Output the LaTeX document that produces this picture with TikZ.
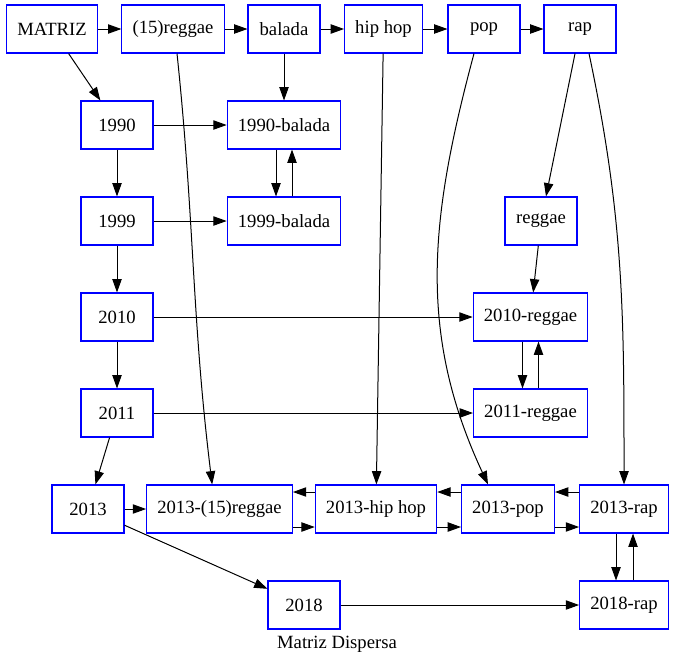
\documentclass[tikz,border=0pt]{standalone}
\usepackage{fontspec}
\setmainfont{Liberation Serif}
\usetikzlibrary{arrows.meta}

\begin{document}
\begin{tikzpicture}[
x=0.75pt, y=-0.75pt,
box/.style={draw=blue, line width=0.8pt, minimum width=54pt, minimum height=36pt, inner xsep=8pt, align=center, font=\fontsize{14}{16}\selectfont},
arrow/.style={-{Triangle[length=10pt, width=7pt]}, line width=0.75pt, black}
]
\useasboundingbox (0,0) rectangle (673,665);
% first row
\node[box] (matriz) at (52,29) {MATRIZ};
\node[box] (reggae15) at (173,29) {(15)reggae};
\node[box] (balada) at (284,29) {balada};
\node[box] (hiphop) at (383.5,29) {hip hop};
\node[box] (pop) at (484,29) {pop};
\node[box] (rap) at (580,29) {rap};
% years and cells
\node[box] (a1990) at (117,125) {1990};
\node[box] (balada1990) at (284,125) {1990-balada};
\node[box] (a1999) at (117,221) {1999};
\node[box] (balada1999) at (284,221) {1999-balada};
\node[box] (reggae) at (541,221) {reggae};
\node[box] (a2010) at (117,317) {2010};
\node[box] (reggae2010) at (530.5,317) {2010-reggae};
\node[box] (a2011) at (117,413) {2011};
\node[box] (reggae2011) at (530.5,413) {2011-reggae};
\node[box] (a2013) at (88,509) {2013};
\node[box] (reggae15a2013) at (219.5,509) {2013-(15)reggae};
\node[box] (hiphop2013) at (376,509) {2013-hip hop};
\node[box] (pop2013) at (508,509) {2013-pop};
\node[box] (rap2013) at (624,509) {2013-rap};
\node[box] (a2018) at (304,605) {2018};
\node[box] (rap2018) at (624,605) {2018-rap};
\node[font=\fontsize{14}{16}\selectfont] (titulo) at (337,644) {Matriz Dispersa};
% header links
\draw[arrow] (matriz) -- (reggae15);
\draw[arrow] (reggae15) -- (balada);
\draw[arrow] (balada) -- (hiphop);
\draw[arrow] (hiphop) -- (pop);
\draw[arrow] (pop) -- (rap);
\draw[arrow] (matriz) -- (a1990);
\draw[arrow] (balada) -- (balada1990);
\draw[arrow] ([xshift=3pt]reggae15.south) to[out=-84, in=97] ([xshift=-5.5pt]reggae15a2013.north);
\draw[arrow] (hiphop) -- (hiphop2013);
\draw[arrow] ([xshift=-7.5pt]pop.south) to[out=-105, in=115] ([xshift=-15pt]pop2013.north);
\draw[arrow] (rap) -- (reggae);
\draw[arrow] ([xshift=6.75pt]rap.south) to[out=-78, in=90] (rap2013.north);
% years
\draw[arrow] (a1990) -- (a1999);
\draw[arrow] (a1999) -- (a2010);
\draw[arrow] (a2010) -- (a2011);
\draw[arrow] (a2011) -- (a2013);
\draw[arrow] (a2013) -- (a2018);
% rows
\draw[arrow] (a1990) -- (balada1990);
\draw[arrow] (a1999) -- (balada1999);
\draw[arrow] (a2010) -- (reggae2010);
\draw[arrow] (a2011) -- (reggae2011);
\draw[arrow] (a2013) -- (reggae15a2013);
\draw[arrow] (a2018) -- (rap2018);
\draw[arrow] (reggae) -- (reggae2010);
% double links
\draw[arrow] ([xshift=-6pt]balada1990.south) -- ([xshift=-6pt]balada1999.north);
\draw[arrow] ([xshift=6pt]balada1999.north) -- ([xshift=6pt]balada1990.south);
\draw[arrow] ([xshift=-6pt]reggae2010.south) -- ([xshift=-6pt]reggae2011.north);
\draw[arrow] ([xshift=6pt]reggae2011.north) -- ([xshift=6pt]reggae2010.south);
\draw[arrow] ([xshift=-6pt]rap2013.south) -- ([xshift=-6pt]rap2018.north);
\draw[arrow] ([xshift=6.75pt]rap2018.north) -- ([xshift=6.75pt]rap2013.south);
\draw[arrow] ([yshift=-13.5pt]reggae15a2013.east) -- ([yshift=-13.5pt]hiphop2013.west);
\draw[arrow] ([yshift=12.75pt]hiphop2013.west) -- ([yshift=12.75pt]reggae15a2013.east);
\draw[arrow] ([yshift=-13.5pt]hiphop2013.east) -- ([yshift=-13.5pt]pop2013.west);
\draw[arrow] ([yshift=12.75pt]pop2013.west) -- ([yshift=12.75pt]hiphop2013.east);
\draw[arrow] ([yshift=-13.5pt]pop2013.east) -- ([yshift=-13.5pt]rap2013.west);
\draw[arrow] ([yshift=12.75pt]rap2013.west) -- ([yshift=12.75pt]pop2013.east);
\end{tikzpicture}
\end{document}
